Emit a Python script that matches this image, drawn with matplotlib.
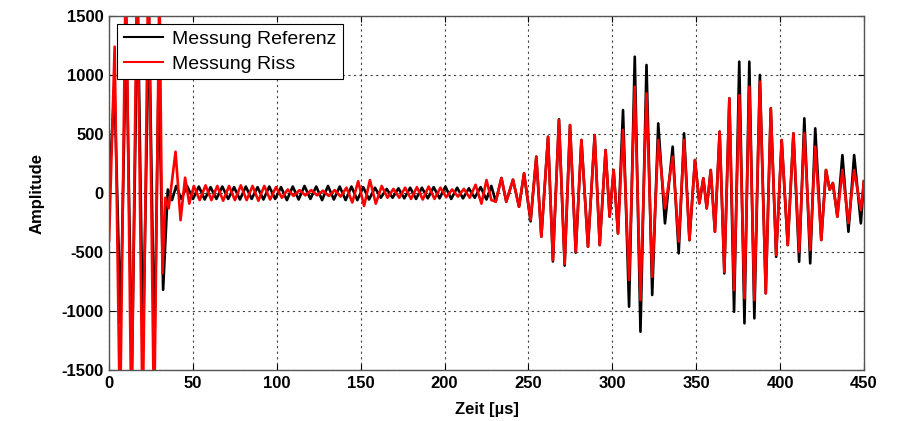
import numpy as np
import matplotlib
matplotlib.use("Agg")
import matplotlib.pyplot as plt

plt.rcParams["font.family"] = ["Liberation Sans", "DejaVu Sans"]
plt.rcParams["axes.unicode_minus"] = False

# Extremwerte (Spitzen/Taeler): Zeit [us], Amplitude
t_ref = [0, 3.2, 6.8, 10.2, 13.6, 17.0, 20.2, 23.8, 27.0, 29.6, 32.2, 35.0, 37.5,
         40, 43, 46.5, 50, 53.5, 57, 60.5, 64, 67.5, 71, 74.5, 78, 81.5, 85, 88.5,
         92, 95.5, 99, 102.5, 106, 109.5, 113, 116.5, 120, 123.5, 127, 130.5, 134,
         137.5, 141, 144.5, 148, 151.5, 155, 158.5, 162, 165.5, 169, 172.5, 176,
         179.5, 183, 186.5, 190, 193.5, 197, 200.5, 204, 207.5, 211, 214.5, 218,
         221.5, 225, 227.9]
a_ref = [50, 900, -1100, 1400, -1500, 1700, -1300, 1500, -1350, 1080, -820, 30, -60,
         60, -50, 60, -50, 55, -55, 50, -50, 55, -50, 50, -55, 55, -50, 50,
         -55, 55, -50, 50, -60, 55, -55, 60, -50, 55, -60, 60, -55,
         55, -60, 55, -60, 50, -55, 45, -40, 35, -40, 40, -45,
         45, -50, 45, -45, 50, -45, 55, -50, 45, -45, 40, -40,
         50, -55, 60]

t_riss = [0, 3.3, 6.5, 10.0, 13.3, 16.7, 20.0, 23.4, 26.8, 30.0, 31.8, 33.5, 35.5,
          39.6, 42.6, 45.3, 47.8, 50.5, 54, 57.5, 61, 64.5, 68, 71.5, 75, 78.5, 82,
          85.5, 89, 92.5, 96, 99.5, 103, 106.5, 110, 113.5, 117, 120.5, 124, 127.5,
          131, 134.5, 138, 141.5, 145, 148.5, 152, 155.5, 159, 162.5, 166, 169.5,
          173, 176.5, 180, 183.5, 187, 190.5, 194, 197.5, 201, 204.5, 208, 211.5,
          215, 218.5, 222, 225, 227.9]
a_riss = [-400, 1240, -2000, 2000, -2000, 2000, -2000, 2000, -2000, 1800, -680, -40, -130,
          350, -230, 130, -90, 60, -60, 65, -60, 60, -65, 60, -60, 65, -60,
          60, -65, 60, -55, 50, -40, 30, -25, 25, -20, 25, -20, 20,
          -25, 25, -30, 45, -80, 100, -110, 110, -90, 60, -40, 35,
          -40, 45, -50, 50, -55, 55, -50, 45, -35, 30, -30, 35,
          -40, 70, -90, 110, -60]

t_main = [230.5, 233.9, 236.8, 240.8, 244.4, 247.4, 251.3, 254.7, 257.7, 261.7,
          264.6, 268.2, 271.6, 274.8, 278.2, 281.6, 285.5, 289.5, 292.5, 296.0,
          298.4, 300.8, 303.4, 306.4, 310.0, 313.4, 316.8, 320.4, 323.8, 327.4,
          331.4, 336.0, 339.6, 342.8, 346.0, 349.3, 351.9, 354.3, 356.3, 358.7,
          361.2, 364.0, 366.8, 369.8, 372.6, 375.7, 378.8, 381.7, 384.7, 388.0,
          391.5, 394.5, 397.7, 401.0, 404.6, 408.0, 411.4, 414.5, 418.0, 421.0,
          424.6, 427.4, 429.6, 431.5, 434.2, 437.2, 440.8, 444.2, 448.2, 450.0]
a_ref_main = [-73, 127, -73, 113, -116, 167, -240, 308, -370, 477,
              -580, 625, -615, 576, -505, 449, -455, 491, -441, 364,
              -200, 195, -342, 703, -963, 1155, -1175, 1085, -864, 590,
              -257, 393, -511, 506, -400, 280, -87, 125, -130, 195,
              -328, 520, -681, 802, -1006, 1113, -1104, 1113, -1062, 1000,
              -850, 718, -540, 449, -441, 506, -582, 633, -596, 548,
              -398, 195, 28, 85, -200, 322, -328, 322, -257, 100]
a_riss_main = [-73, 127, -73, 113, -116, 167, -229, 308, -370, 477,
               -568, 619, -600, 576, -497, 449, -455, 491, -441, 364,
               -200, 195, -342, 534, -737, 901, -907, 845, -709, 449,
               -130, 308, -412, 449, -395, 280, -87, 125, -130, 195,
               -328, 520, -667, 802, -822, 830, -892, 901, -907, 943,
               -850, 718, -525, 449, -441, 506, -497, 506, -483, 393,
               -398, 195, 28, 85, -200, 195, -255, 195, -144, 100]

fig = plt.figure(figsize=(8.98, 4.21), dpi=100)
ax = fig.add_axes([0.1215, 0.121, 0.8405, 0.841])

ax.plot(t_ref + t_main, a_ref + a_ref_main, color="black", lw=1.9, label="Messung Referenz")
ax.plot(t_riss + t_main, a_riss + a_riss_main, color="red", lw=1.9, label="Messung Riss")

ax.set_xlim(0, 450)
ax.set_ylim(-1500, 1500)
ax.set_xticks(np.arange(0, 451, 50))
ax.set_yticks(np.arange(-1500, 1501, 500))
ax.grid(True, color="#444444", linestyle=(0, (2, 3)), linewidth=0.8)
ax.tick_params(direction="in", top=True, right=True, length=4, width=0.8,
               labelsize=12, pad=4)
for lab in ax.get_xticklabels() + ax.get_yticklabels():
    lab.set_fontweight("bold")
for sp in ax.spines.values():
    sp.set_color("#555555")
    sp.set_linewidth(1.0)

ax.set_xlabel("Zeit [µs]", fontsize=12, fontweight="bold", labelpad=8)
ax.set_ylabel("Amplitude", fontsize=12, fontweight="bold", labelpad=12)

leg = ax.legend(loc="upper left", fontsize=14, handlelength=2.0, fancybox=False,
                framealpha=1, edgecolor="black", borderaxespad=0.4,
                borderpad=0.35, labelspacing=0.35, handletextpad=0.5)
leg.get_frame().set_linewidth(0.8)
for h in leg.get_lines():
    h.set_linewidth(1.5)

fig.savefig("out.png", dpi=100)
